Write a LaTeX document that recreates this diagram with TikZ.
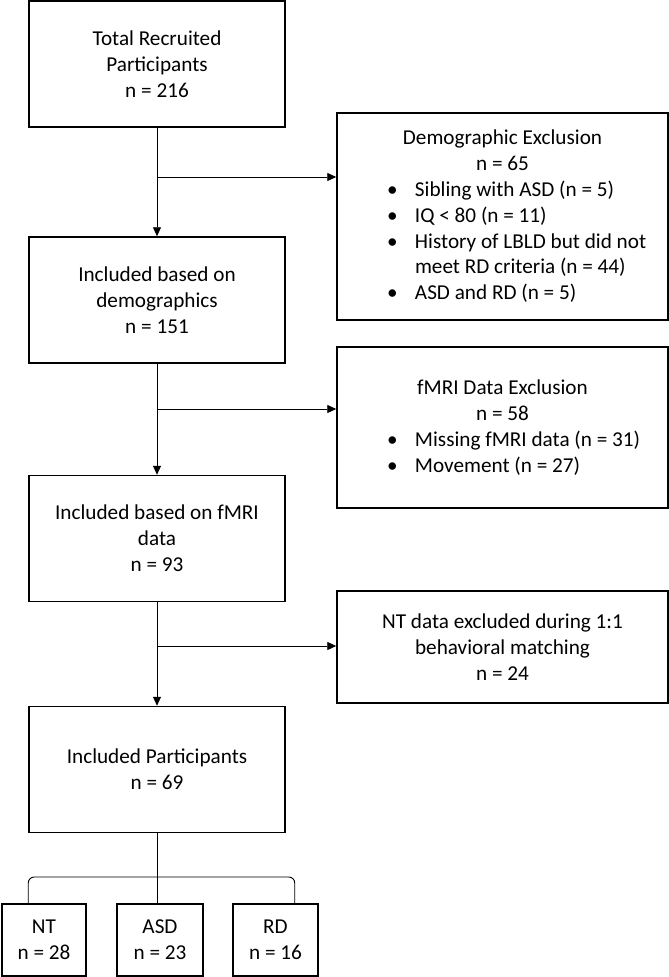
\documentclass[tikz,border=0pt]{standalone}
\usepackage{fontspec}
\setmainfont{Carlito}
\usetikzlibrary{arrows.meta}
\tikzset{
	box/.style={draw, line width=1.5pt, minimum width=256pt, minimum height=126pt, align=center, inner sep=4pt, font=\fontsize{21.2}{25.8}\selectfont},
	exbox/.style={box, minimum width=331pt, text width=315pt, align=left},
	grpbox/.style={box, minimum height=72pt},
	link/.style={line width=0.9pt},
	arrow/.style={link, -{Triangle[length=9pt,width=8pt]}}
}
\newcommand{\bhead}[1]{{\centering\spaceskip=0pt\xspaceskip=0pt #1\par}}
\newcommand{\bul}[1]{\par{\raggedright\spaceskip=0pt\xspaceskip=0pt\hangindent=70pt\hangafter=1\noindent\makebox[70pt][l]{\hspace{42pt}\textbullet}#1\par}}

\begin{document}
\begin{tikzpicture}[x=1pt,y=-1pt]
			%%%%% START %%%%%
			\useasboundingbox (0,0) rectangle (669,977);
			
			\node[box] (total) at (157,64) {Total Recruited\\Participants\\n = 216};
			\node[box] (demog) at (157,300) {Included based on\\demographics\\n = 151};
			\node[box] (fmri) at (157,538.5) {Included based on fMRI\\data\\n = 93};
			\node[box] (incl) at (157,769.5) {Included Participants\\n = 69};
			
			\node[exbox, minimum height=207pt] (demoex) at (502.5,216.5) {\bhead{Demographic Exclusion\break n = 65}
				\bul{Sibling with ASD (n = 5)}
				\bul{IQ < 80 (n = 11)}
				\bul{History of LBLD but did not\break meet RD criteria (n = 44)}
				\bul{ASD and RD (n = 5)}};
			\node[exbox, minimum height=161pt] (fmriex) at (502.5,427.5) {\bhead{fMRI Data Exclusion\break n = 58}
				\bul{Missing fMRI data (n = 31)}
				\bul{Movement (n = 27)}};
			\node[box, minimum width=331pt, minimum height=112pt] (ntex) at (502.5,647) {NT data excluded during 1:1\\behavioral matching\\n = 24};
			
			\node[grpbox, minimum width=84pt] (nt) at (44,940) {NT\\n = 28};
			\node[grpbox, minimum width=86pt] (asd) at (160,940) {ASD\\n = 23};
			\node[grpbox, minimum width=85pt] (rd) at (275.5,940) {RD\\n = 16};
			
			\draw[arrow] (total) -- (demog);
			\draw[arrow] (demog) -- (fmri);
			\draw[arrow] (fmri) -- (incl);
			
			\coordinate (b1) at (157,177);
			\coordinate (b2) at (157,409);
			\coordinate (b3) at (157,646);
			\draw[arrow] (b1) -- (b1 -| demoex.west);
			\draw[arrow] (b2) -- (b2 -| fmriex.west);
			\draw[arrow] (b3) -- (b3 -| ntex.west);
			
			\coordinate (split) at (157,877);
			\draw[link] (incl.south) -- (incl.south |- asd.north);
			\draw[link, rounded corners=6pt] ([xshift=27pt]nt.north west) |- (split) -| ([xshift=-24pt]rd.north east);
			%%%%% END %%%%%
\end{tikzpicture}
\end{document}
